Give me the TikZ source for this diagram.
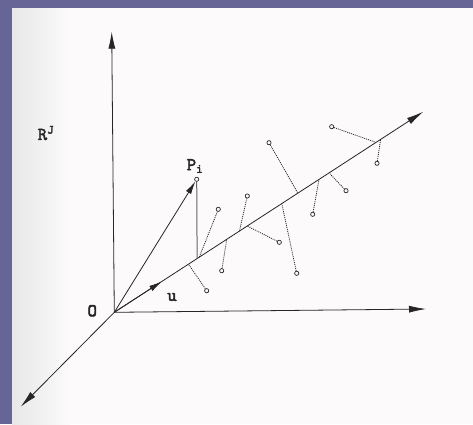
\documentclass[tikz,border=0pt]{standalone}
\usepackage{fontspec}
\newfontfamily\lblfont{lmmono10-regular}[Extension=.otf, FakeBold=2.4]
\usetikzlibrary{arrows.meta, calc}

\definecolor{slide}{HTML}{676496}
\definecolor{paper}{HTML}{FCFAFB}
\definecolor{ink}{HTML}{262626}

\begin{document}
\begin{tikzpicture}[
    x=1pt, y=-1pt,
    axis/.style={ink, line width=0.8pt, -{Latex[length=17pt, width=7pt]}},
    vec/.style={ink, line width=0.8pt, -{Latex[length=13pt, width=6pt]}},
    proj/.style={ink, line width=0.8pt, dash pattern=on 1pt off 1pt},
    pt/.style={circle, draw=ink, fill=paper, line width=0.7pt, inner sep=0pt, minimum size=4.2pt},
    lbl/.style={font=\lblfont\fontsize{18}{21}\selectfont, ink, inner sep=0pt}]
\useasboundingbox (0,0) rectangle (473,424);
% scanned page
\fill[paper] (12,7.5) rectangle (473,424);
\shade[left color=black!9, right color=paper] (12,7.5) rectangle (70,424);

% axes
\coordinate (O) at (114.3,312.3);
\coordinate (ytip) at (111.7,31.7);
\coordinate (xtip) at (426,309);
\coordinate (ztip) at (20.7,406.7);
\coordinate (utip) at (423.3,111.7);
\coordinate (uvec) at ($(O)!0.154!(utip)$);
\draw[axis] (O) -- (ytip);
\draw[axis] (O) -- (xtip);
\draw[axis] (O) -- (ztip);
\draw[axis] (O) -- (utip);
\draw[vec] (O) -- (uvec);

% points and their projections
\node[pt] (p) at (196.7,179.3) {};
\node[pt] (pa) at (206.7,290.7) {};
\node[pt] (pb) at (221.7,270.7) {};
\node[pt] (pc) at (218.3,209.3) {};
\node[pt] (pd) at (247.3,196) {};
\node[pt] (pe) at (279.3,242.3) {};
\node[pt] (pf) at (296.7,273.3) {};
\node[pt] (pg) at (269,142.7) {};
\node[pt] (ph) at (312.7,214.3) {};
\node[pt] (pi) at (346,190.7) {};
\node[pt] (pj) at (331.7,126.7) {};
\node[pt] (pk) at (377,163.3) {};

\coordinate (fp) at ($(O)!0.268!(utip)$);
\coordinate (fa) at ($(O)!0.24!(utip)$);
\coordinate (fb) at ($(O)!0.364!(utip)$);
\coordinate (fc) at ($(O)!0.275!(utip)$);
\coordinate (fd) at ($(O)!0.405!(utip)$);
\coordinate (fe) at ($(O)!0.43!(utip)$);
\coordinate (ff) at ($(O)!0.542!(utip)$);
\coordinate (fg) at ($(O)!0.594!(utip)$);
\coordinate (fh) at ($(O)!0.6625!(utip)$);
\coordinate (fi) at ($(O)!0.695!(utip)$);
\coordinate (fj) at ($(O)!0.847!(utip)$);
\coordinate (fk) at ($(O)!0.862!(utip)$);

\draw[vec] (O) -- (p);
\draw[black!60, line width=1pt] (p) -- (fp);
\draw[proj] (pa) -- (fa);
\draw[proj] (pb) -- (fb);
\draw[proj] (pc) -- (fc);
\draw[proj] (pd) -- (fd);
\draw[proj] (pe) -- (fe);
\draw[proj] (pf) -- (ff);
\draw[proj] (pg) -- (fg);
\draw[proj] (ph) -- (fh);
\draw[proj] (pi) -- (fi);
\draw[proj] (pj) -- (fj);
\draw[proj] (pk) -- (fk);

% labels
\node[lbl] (olbl) at (92.3,310.7) {O};
\node[lbl] (ulbl) at (172,297) {u};
\node[lbl] (plbl) at (195,166) {P\textsubscript{i}};
\node[lbl] (rlbl) at (46,133) {R\textsuperscript{J}};

% slide frame
\fill[slide] (0,0) rectangle (473,7.5);
\fill[slide] (0,0) rectangle (12,424);
\end{tikzpicture}
\end{document}
